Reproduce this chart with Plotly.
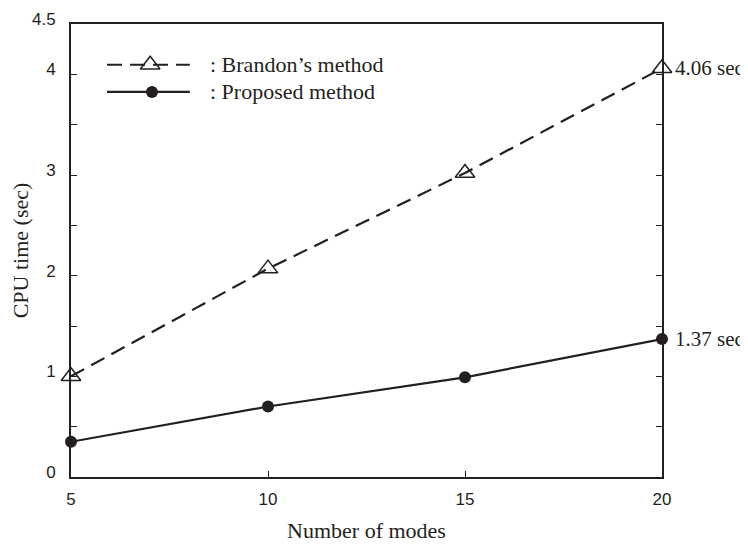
import plotly.graph_objects as go

modes = [5, 10, 15, 20]
brandon = [1.00, 2.07, 3.02, 4.06]
proposed = [0.35, 0.70, 0.99, 1.37]
y_tickvals = [0, 0.5, 1, 1.5, 2, 2.5, 3, 3.5, 4, 4.5]
y_ticktext = ["0", "", "1", "", "2", "", "3", "", "4", "4.5"]
x_tickvals = [5, 10, 15, 20]
x_ticktext = ["5", "10", "15", "20"]
legend_names = [": Brandon\u2019s method", ": Proposed method"]
end_labels = ["4.06 sec", "1.37 sec"]

ink = "#231f20"
serif = "Liberation Serif, Times New Roman, serif"
sans = "Liberation Sans, Arial, sans-serif"
dash = "15px,8px"
tri = dict(symbol="triangle-up-open", size=17, color=ink, line=dict(width=1.5, color=ink))
dot = dict(symbol="circle", size=12, color=ink)

fig = go.Figure()
fig.add_trace(go.Scatter(x=modes, y=brandon, mode="lines+markers", cliponaxis=False,
                         line=dict(color=ink, width=2.2, dash=dash), marker=tri, showlegend=False))
fig.add_trace(go.Scatter(x=modes, y=proposed, mode="lines+markers", cliponaxis=False,
                         line=dict(color=ink, width=2.2), marker=dot, showlegend=False))

# manual legend on a hidden overlay axis (0..1 domain)
leg_y = [0.910, 0.850]
fig.add_trace(go.Scatter(x=[0.061, 0.201], y=[leg_y[0]] * 2, xaxis="x2", yaxis="y2",
                         mode="lines", line=dict(color=ink, width=2.2, dash=dash),
                         showlegend=False, hoverinfo="skip"))
fig.add_trace(go.Scatter(x=[0.134], y=[leg_y[0]], xaxis="x2", yaxis="y2", mode="markers",
                         marker=tri, showlegend=False, hoverinfo="skip"))
fig.add_trace(go.Scatter(x=[0.061, 0.201], y=[leg_y[1]] * 2, xaxis="x2", yaxis="y2",
                         mode="lines", line=dict(color=ink, width=2.2),
                         showlegend=False, hoverinfo="skip"))
fig.add_trace(go.Scatter(x=[0.137], y=[leg_y[1]], xaxis="x2", yaxis="y2", mode="markers",
                         marker=dot, showlegend=False, hoverinfo="skip"))
for name, yy in zip(legend_names, leg_y):
    fig.add_annotation(x=0.235, y=yy, xref="x2", yref="y2", text=name, showarrow=False,
                       xanchor="left", yanchor="middle", xshift=-2,
                       font=dict(family=serif, size=22, color=ink))

for lab, yv in zip(end_labels, [brandon[-1], proposed[-1]]):
    fig.add_annotation(x=modes[-1], y=yv, text=lab, showarrow=False, xanchor="left",
                       yanchor="middle", xshift=11, font=dict(family=serif, size=21, color=ink))

fig.update_layout(
    width=740, height=537,
    margin=dict(l=63, r=86, t=2, b=68),
    paper_bgcolor="white", plot_bgcolor="white",
    xaxis=dict(range=[5, 20], tickvals=x_tickvals, ticktext=x_ticktext, ticks="inside",
               ticklen=6, tickwidth=1, tickcolor=ink, showline=True, linecolor=ink, linewidth=2,
               mirror=True, showgrid=False, zeroline=False, ticklabelstandoff=6,
               tickfont=dict(family=sans, size=17, color=ink),
               title=dict(text="Number of modes", font=dict(family=serif, size=22, color=ink), standoff=14)),
    yaxis=dict(range=[0, 4.5], tickvals=y_tickvals, ticktext=y_ticktext, ticks="inside",
               ticklen=6, tickwidth=1, tickcolor=ink, showline=True, linecolor=ink, linewidth=2,
               mirror="ticks", showgrid=False, zeroline=False, ticklabelstandoff=10,
               ticklabelshift=-5, ticklabeloverflow="allow",
               tickfont=dict(family=sans, size=17, color=ink),
               title=dict(text="CPU time (sec)", font=dict(family=serif, size=22, color=ink), standoff=6)),
    xaxis2=dict(range=[0, 1], overlaying="x", visible=False, fixedrange=True),
    yaxis2=dict(range=[0, 1], overlaying="y", visible=False, fixedrange=True),
)

fig.write_html("out.html")
